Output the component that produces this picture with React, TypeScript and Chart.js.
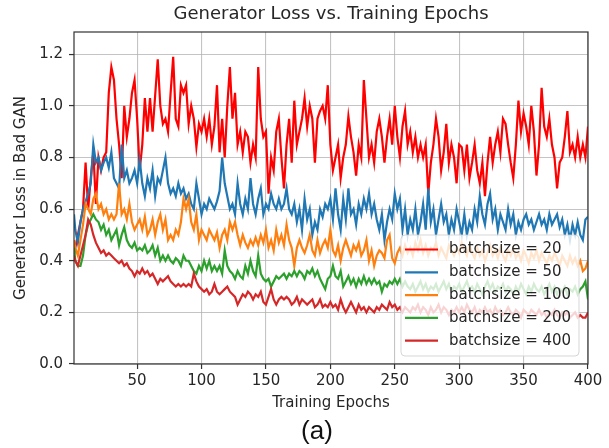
import React, { useEffect, useRef } from "react";
import { Chart, registerables } from "chart.js";

Chart.register(...registerables);

// x categories: epoch 1, then every 2 epochs up to 400
const epochs: number[] = [1, ...Array.from({ length: 200 }, (_, i) => 2 * (i + 1))];

const xTicks = [50, 100, 150, 200, 250, 300, 350, 400];
const yTicks = [0, 0.2, 0.4, 0.6, 0.8, 1.0, 1.2];

const seriesLabels = ["batchsize = 20", "batchsize = 50", "batchsize = 100", "batchsize = 200", "batchsize = 400"];
const seriesColors = ["#ff0000", "#1f77b4", "#ff7f0e", "#2ca02c", "#d62728"];

const bs20 = [
  0.42,
  0.45, 0.5, 0.55, 0.6, 0.78, 0.6, 0.72, 0.82, 0.62, 0.8,
  0.75, 0.8, 0.82, 1.05, 1.15, 1.1, 0.95, 0.85, 0.72, 1.0,
  0.88, 0.95, 1.05, 1.1, 0.95, 0.75, 0.85, 1.03, 0.9, 1.03,
  0.9, 1.04, 1.18, 1.0, 0.93, 0.95, 0.9, 1.05, 1.19, 0.95,
  0.92, 1.08, 1.05, 1.08, 0.93, 1.0, 0.95, 0.84, 0.93, 0.9,
  0.95, 0.88, 0.95, 0.85, 0.92, 1.08, 0.82, 0.95, 0.8, 1.0,
  1.15, 0.95, 1.05, 0.85, 0.9, 0.82, 0.9, 0.88, 0.78, 0.85,
  0.8, 1.15, 0.95, 0.88, 0.9, 0.66, 0.8, 0.75, 0.9, 0.95,
  0.8, 0.68, 0.85, 0.95, 0.78, 1.02, 0.85, 0.9, 0.95, 1.03,
  0.92, 1.0, 0.95, 0.78, 0.95, 0.98, 1.0, 0.95, 1.08, 0.85,
  0.75, 0.8, 0.85, 0.72, 0.8, 0.85, 0.96, 0.88, 0.82, 0.73,
  0.85, 0.8, 1.1, 0.95, 0.8, 0.85, 0.78, 0.9, 0.95, 0.88,
  0.78, 0.88, 0.95, 0.85, 1.0, 0.88, 0.8, 0.92, 0.98, 0.85,
  0.9, 0.82, 0.88, 0.8, 0.85, 0.8, 0.85, 0.66, 0.78, 0.85,
  0.95, 0.88, 0.75, 0.82, 0.93, 0.78, 0.85, 0.8, 0.7, 0.85,
  0.84, 0.75, 0.85, 0.72, 0.78, 0.85, 0.75, 0.7, 0.78, 0.65,
  0.78, 0.88, 0.78, 0.85, 0.9, 0.82, 0.95, 0.93, 0.85, 0.78,
  0.72, 0.85, 1.02, 0.9, 0.97, 0.92, 0.85, 1.0, 0.9, 0.73,
  0.85, 1.07, 0.92, 0.88, 0.95, 0.85, 0.8, 0.68, 0.78, 0.8,
  0.88, 0.98, 0.82, 0.85, 0.8, 0.88, 0.8, 0.85, 0.8, 0.92,
];

const bs50 = [
  0.58,
  0.52, 0.47, 0.55, 0.6, 0.63, 0.66, 0.7, 0.85, 0.78, 0.8,
  0.75, 0.78, 0.8, 0.76, 0.82, 0.72, 0.7, 0.68, 0.85, 0.72,
  0.75, 0.7, 0.72, 0.75, 0.7, 0.79, 0.7, 0.65, 0.72, 0.68,
  0.75, 0.65, 0.72, 0.7, 0.75, 0.8, 0.7, 0.66, 0.68, 0.65,
  0.7, 0.66, 0.68, 0.64, 0.66, 0.62, 0.6, 0.7, 0.64, 0.58,
  0.62, 0.6, 0.64, 0.62, 0.6, 0.63, 0.67, 0.8, 0.7, 0.65,
  0.6, 0.62, 0.58, 0.7, 0.62, 0.58, 0.64, 0.6, 0.72, 0.62,
  0.58, 0.64, 0.68, 0.58, 0.62, 0.6, 0.66, 0.62, 0.6, 0.64,
  0.6, 0.62, 0.68, 0.6, 0.58, 0.62, 0.55, 0.6, 0.52, 0.64,
  0.56, 0.6, 0.5, 0.55, 0.52, 0.6, 0.57, 0.62, 0.6, 0.64,
  0.56, 0.68, 0.58, 0.52, 0.64, 0.56, 0.68, 0.58, 0.6, 0.54,
  0.62, 0.58, 0.64, 0.6, 0.66, 0.58, 0.62, 0.56, 0.52, 0.58,
  0.48, 0.55, 0.6, 0.56, 0.66, 0.6, 0.64, 0.52, 0.6, 0.5,
  0.56, 0.52, 0.6, 0.5, 0.55, 0.62, 0.52, 0.68, 0.55, 0.6,
  0.5, 0.56, 0.62, 0.55, 0.58, 0.5, 0.56, 0.52, 0.6, 0.55,
  0.5, 0.58, 0.5, 0.55, 0.52, 0.6, 0.55, 0.65, 0.58, 0.54,
  0.62, 0.66, 0.56, 0.6, 0.52, 0.58, 0.55, 0.52, 0.6, 0.54,
  0.58, 0.5, 0.55, 0.52, 0.56, 0.58, 0.54, 0.56, 0.52, 0.55,
  0.58, 0.54, 0.56, 0.52, 0.58, 0.54, 0.56, 0.58, 0.53, 0.56,
  0.5, 0.54, 0.48, 0.54, 0.5, 0.55, 0.5, 0.48, 0.56, 0.57,
];

const bs100 = [
  0.48,
  0.45, 0.42, 0.48, 0.54, 0.62, 0.6, 0.58, 0.64, 0.66, 0.6,
  0.62, 0.58, 0.6, 0.56, 0.58, 0.56, 0.58, 0.7, 0.58, 0.6,
  0.56, 0.62, 0.55, 0.52, 0.54, 0.56, 0.52, 0.57, 0.5, 0.52,
  0.56, 0.5, 0.55, 0.58, 0.52, 0.56, 0.48, 0.5, 0.48, 0.52,
  0.5, 0.55, 0.64, 0.6, 0.64, 0.55, 0.52, 0.58, 0.48, 0.52,
  0.5, 0.48, 0.52, 0.5, 0.48, 0.51, 0.45, 0.5, 0.52, 0.48,
  0.55, 0.52, 0.55, 0.5, 0.46, 0.5, 0.47, 0.45, 0.48, 0.46,
  0.49, 0.46, 0.5, 0.47, 0.52, 0.45, 0.48, 0.44, 0.52, 0.47,
  0.5, 0.46, 0.54, 0.48, 0.45, 0.38, 0.45, 0.48, 0.45, 0.43,
  0.46, 0.5, 0.44, 0.42, 0.48, 0.43, 0.46, 0.48, 0.45, 0.52,
  0.44, 0.42, 0.46, 0.4, 0.45, 0.48, 0.45, 0.42, 0.46, 0.44,
  0.47, 0.42, 0.44, 0.48, 0.4, 0.44, 0.38, 0.42, 0.44, 0.43,
  0.41, 0.48, 0.5, 0.41, 0.39, 0.43, 0.45, 0.42, 0.46, 0.43,
  0.45, 0.42, 0.47, 0.44, 0.48, 0.43, 0.46, 0.42, 0.45, 0.44,
  0.47, 0.42, 0.45, 0.43, 0.41, 0.46, 0.44, 0.42, 0.45, 0.43,
  0.47, 0.44, 0.42, 0.46, 0.43, 0.41, 0.45, 0.42, 0.44, 0.4,
  0.43, 0.46, 0.42, 0.44, 0.41, 0.45, 0.42, 0.4, 0.44, 0.42,
  0.45, 0.41, 0.43, 0.4, 0.44, 0.42, 0.39, 0.43, 0.41, 0.44,
  0.4, 0.43, 0.41, 0.39, 0.42, 0.4, 0.43, 0.41, 0.38, 0.42,
  0.4, 0.38, 0.42, 0.39, 0.41, 0.38, 0.4, 0.36, 0.37, 0.4,
];

const bs200 = [
  0.45,
  0.4, 0.38, 0.38, 0.42, 0.5, 0.54, 0.56, 0.58, 0.56, 0.55,
  0.52, 0.54, 0.5, 0.52, 0.48, 0.5, 0.52, 0.46, 0.5, 0.53,
  0.48, 0.46, 0.45, 0.47, 0.44, 0.45, 0.44, 0.46, 0.43, 0.44,
  0.46, 0.42, 0.45, 0.4, 0.42, 0.4, 0.42, 0.4, 0.39, 0.41,
  0.4, 0.38, 0.42, 0.4, 0.4, 0.38, 0.36, 0.35, 0.38, 0.36,
  0.4, 0.37, 0.4, 0.36, 0.38, 0.36, 0.38, 0.35, 0.44, 0.38,
  0.36, 0.35, 0.33, 0.36, 0.34, 0.33, 0.38, 0.35, 0.4, 0.36,
  0.34, 0.42, 0.35, 0.33, 0.32, 0.33, 0.3, 0.32, 0.34, 0.33,
  0.34, 0.35, 0.33, 0.35, 0.34, 0.36, 0.34, 0.36, 0.35, 0.33,
  0.36, 0.35, 0.37, 0.34, 0.36, 0.33, 0.31, 0.29, 0.33, 0.34,
  0.38, 0.34, 0.33, 0.36, 0.3, 0.32, 0.34, 0.31, 0.33, 0.3,
  0.33, 0.31, 0.34, 0.31, 0.33, 0.31, 0.33, 0.31, 0.32, 0.28,
  0.31, 0.3, 0.32, 0.31, 0.33, 0.31, 0.33, 0.3, 0.32, 0.3,
  0.29, 0.31, 0.28, 0.3, 0.32, 0.29, 0.31, 0.28, 0.3, 0.29,
  0.31, 0.28, 0.3, 0.32, 0.29, 0.31, 0.28, 0.3, 0.29, 0.31,
  0.28, 0.3, 0.32, 0.29, 0.3, 0.28, 0.31, 0.29, 0.27, 0.3,
  0.32, 0.29, 0.31, 0.28, 0.3, 0.29, 0.31, 0.28, 0.3, 0.29,
  0.27, 0.3, 0.28, 0.31, 0.29, 0.27, 0.3, 0.28, 0.31, 0.29,
  0.28, 0.3, 0.27, 0.29, 0.31, 0.28, 0.3, 0.27, 0.29, 0.28,
  0.3, 0.27, 0.29, 0.28, 0.3, 0.27, 0.29, 0.3, 0.32, 0.25,
];

const bs400 = [
  0.42,
  0.4, 0.38, 0.42, 0.46, 0.5, 0.56, 0.54, 0.5, 0.47, 0.45,
  0.43, 0.44, 0.42, 0.43, 0.42, 0.41, 0.4, 0.39, 0.4, 0.38,
  0.39, 0.37, 0.36, 0.34, 0.36, 0.35, 0.37, 0.35, 0.36, 0.34,
  0.35, 0.33, 0.31, 0.33, 0.32, 0.33, 0.34, 0.32, 0.31, 0.3,
  0.31, 0.3, 0.31, 0.3, 0.31, 0.3, 0.35, 0.32, 0.3, 0.29,
  0.28, 0.29, 0.27, 0.28, 0.31, 0.28, 0.27, 0.28, 0.29, 0.3,
  0.28, 0.27, 0.26, 0.23, 0.25, 0.27, 0.26, 0.28, 0.27, 0.25,
  0.27, 0.26, 0.28, 0.24, 0.23, 0.26, 0.29, 0.25, 0.23, 0.25,
  0.26, 0.25, 0.26, 0.25, 0.23, 0.24, 0.26, 0.23, 0.25, 0.24,
  0.23, 0.24, 0.25, 0.22, 0.23, 0.25, 0.22, 0.23, 0.22, 0.24,
  0.22, 0.23, 0.21, 0.25, 0.22, 0.2, 0.22, 0.24, 0.22, 0.2,
  0.23, 0.21, 0.22, 0.2, 0.22, 0.21, 0.2, 0.22, 0.21, 0.23,
  0.22, 0.21, 0.24, 0.22, 0.23, 0.21, 0.22, 0.2, 0.22, 0.21,
  0.2, 0.22, 0.21, 0.23, 0.2, 0.22, 0.21, 0.19, 0.22, 0.2,
  0.21, 0.23, 0.2, 0.22, 0.21, 0.19, 0.21, 0.2, 0.22, 0.2,
  0.22, 0.2, 0.23, 0.21, 0.2, 0.22, 0.19, 0.21, 0.2, 0.22,
  0.2, 0.21, 0.19, 0.22, 0.2, 0.21, 0.19, 0.2, 0.22, 0.2,
  0.19, 0.21, 0.2, 0.18, 0.21, 0.2, 0.19, 0.21, 0.2, 0.19,
  0.21, 0.19, 0.2, 0.18, 0.2, 0.19, 0.21, 0.19, 0.18, 0.2,
  0.19, 0.2, 0.18, 0.19, 0.2, 0.18, 0.19, 0.18, 0.18, 0.2,
];

const allSeries = [bs20, bs50, bs100, bs200, bs400];

const FONT = '"DejaVu Sans", sans-serif';
const TEXT = "#262626";

const decorPlugin = {
  id: "decor",
  afterDraw(chart: any) {
    const { ctx, chartArea } = chart;
    const { left, right, top, bottom } = chartArea;
    ctx.save();
    // spines
    ctx.strokeStyle = "#333333";
    ctx.lineWidth = 1.2;
    ctx.strokeRect(left, top, right - left, bottom - top);

    // legend
    const bx = 401, by = 235, bw = 178, bh = 121, r = 4;
    ctx.beginPath();
    ctx.moveTo(bx + r, by);
    ctx.lineTo(bx + bw - r, by);
    ctx.quadraticCurveTo(bx + bw, by, bx + bw, by + r);
    ctx.lineTo(bx + bw, by + bh - r);
    ctx.quadraticCurveTo(bx + bw, by + bh, bx + bw - r, by + bh);
    ctx.lineTo(bx + r, by + bh);
    ctx.quadraticCurveTo(bx, by + bh, bx, by + bh - r);
    ctx.lineTo(bx, by + r);
    ctx.quadraticCurveTo(bx, by, bx + r, by);
    ctx.closePath();
    ctx.fillStyle = "rgba(255,255,255,0.8)";
    ctx.fill();
    ctx.strokeStyle = "rgba(204,204,204,0.8)";
    ctx.lineWidth = 1;
    ctx.stroke();
    ctx.font = `15px ${FONT}`;
    ctx.textBaseline = "middle";
    ctx.textAlign = "left";
    seriesLabels.forEach((lab, i) => {
      const y = 249.5 + i * 22.8;
      ctx.strokeStyle = seriesColors[i];
      ctx.lineWidth = 2.2;
      ctx.beginPath();
      ctx.moveTo(405, y);
      ctx.lineTo(438, y);
      ctx.stroke();
      ctx.fillStyle = TEXT;
      ctx.fillText(lab, 449, y);
    });

    // title
    const cx = (left + right) / 2;
    ctx.fillStyle = TEXT;
    ctx.textAlign = "center";
    ctx.font = `18px ${FONT}`;
    ctx.fillText("Generator Loss vs. Training Epochs", cx, 14);
    // x label
    ctx.font = `15px ${FONT}`;
    ctx.fillText("Training Epochs", cx, 403);
    // caption
    ctx.font = '26px "Liberation Sans", Arial, sans-serif';
    ctx.fillStyle = "#111";
    ctx.fillText("(a)", 317, 432);
    // y label
    ctx.save();
    ctx.translate(21, (top + bottom) / 2);
    ctx.rotate(-Math.PI / 2);
    ctx.font = `15px ${FONT}`;
    ctx.fillStyle = TEXT;
    ctx.fillText("Generator Loss in Bad GAN", 0, 0);
    ctx.restore();
    ctx.restore();
  },
};

export default function App() {
  const ref = useRef<HTMLCanvasElement | null>(null);
  useEffect(() => {
    if (!ref.current) return;
    const datasets = allSeries.map((vals, i) => ({
      label: seriesLabels[i],
      data: vals.map((v, j) => ({ x: epochs[j], y: v })),
      borderColor: seriesColors[i],
      backgroundColor: seriesColors[i],
      borderWidth: 2.2,
      pointRadius: 0,
      tension: 0,
      fill: false,
      order: allSeries.length - i,
    }));
    const chart = new Chart(ref.current, {
      type: "line",
      data: { datasets },
      options: {
        animation: false,
        responsive: false,
        events: [],
        layout: { padding: { left: 0, top: 32, right: 21, bottom: 54 } },
        plugins: { legend: { display: false }, tooltip: { enabled: false }, title: { display: false } },
        scales: {
          x: {
            type: "linear",
            min: 1,
            max: 400,
            afterBuildTicks: (s: any) => {
              s.ticks = xTicks.map((v) => ({ value: v }));
            },
            afterFit: (s: any) => {
              s.height = 30;
            },
            ticks: {
              callback: (v: any) => String(v),
              font: { family: FONT, size: 15 },
              color: TEXT,
              padding: 3,
              maxRotation: 0,
              autoSkip: false,
            },
            grid: { color: "rgba(176,176,176,0.75)", lineWidth: 1.1, tickLength: 5, tickColor: "#333", tickWidth: 1.2 },
            border: { display: false },
          },
          y: {
            type: "linear",
            min: 0,
            max: 1.286,
            afterBuildTicks: (s: any) => {
              s.ticks = yTicks.map((v) => ({ value: v }));
            },
            afterFit: (s: any) => {
              s.width = 74;
            },
            ticks: {
              callback: (v: any) => Number(v).toFixed(1),
              font: { family: FONT, size: 15 },
              color: TEXT,
              padding: 6,
              autoSkip: false,
            },
            grid: { color: "rgba(176,176,176,0.75)", lineWidth: 1.1, tickLength: 5, tickColor: "#333", tickWidth: 1.2 },
            border: { display: false },
          },
        },
      },
      plugins: [decorPlugin],
    });
    return () => chart.destroy();
  }, []);
  return (
    <div style={{ position: "fixed", left: 0, top: 0, width: 609, height: 448, background: "#fff" }}>
      <canvas ref={ref} width={609} height={448} style={{ display: "block" }} />
    </div>
  );
}
